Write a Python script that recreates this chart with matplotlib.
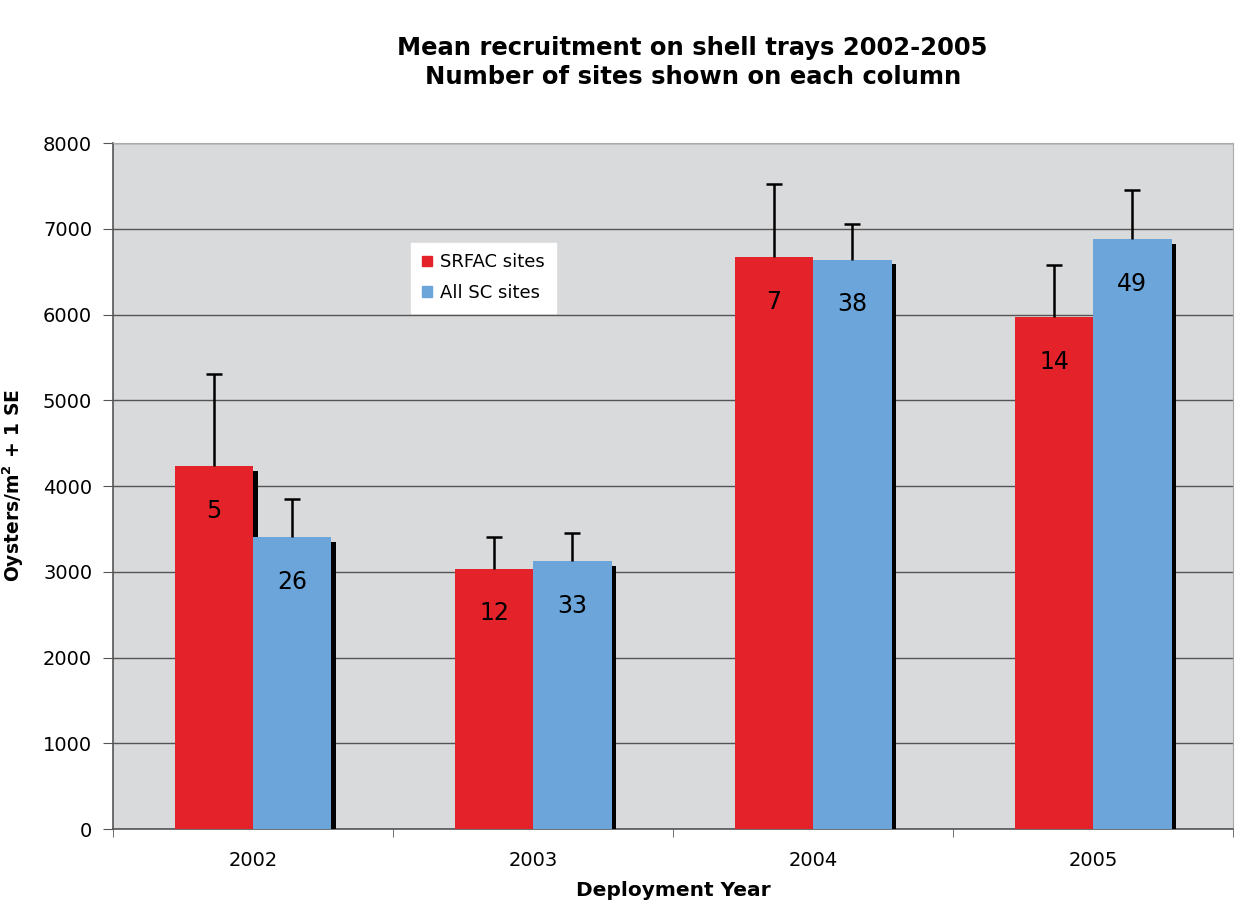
import numpy as np
import matplotlib.pyplot as plt
import matplotlib.patheffects as pe
from matplotlib.patches import Patch

# data
years = ["2002", "2003", "2004", "2005"]
srfac_mean = [4230, 3035, 6670, 5970]
srfac_se = [1075, 365, 850, 605]
allsc_mean = [3405, 3125, 6640, 6880]
allsc_se = [440, 330, 420, 570]
srfac_n = [5, 12, 7, 14]
allsc_n = [26, 33, 38, 49]

red = "#e3222a"
blue = "#6ca5da"

fig = plt.figure(figsize=(12.37, 9.08), dpi=100)
ax = fig.add_axes([0.0914, 0.087, 0.9055, 0.7555])
ax.set_facecolor("#d9dadb")

x = np.arange(len(years))
w = 0.28
shadow = [pe.SimplePatchShadow(offset=(3.5, -3.5), shadow_rgbFace="black", alpha=1), pe.Normal()]


def draw_series(xpos, means, errs, color, z):
    bars = ax.bar(xpos, means, w, color=color, zorder=z)
    for p in bars:
        p.set_path_effects(shadow)
    eb = ax.errorbar(xpos, means, yerr=[np.zeros(len(means)), errs], fmt="none",
                     ecolor="black", elinewidth=1.8, capsize=6, capthick=1.8, zorder=z + 1)
    # only the upper cap is shown
    eb[1][0].set_visible(False)


draw_series(x - w / 2, srfac_mean, srfac_se, red, 3)
draw_series(x + w / 2, allsc_mean, allsc_se, blue, 5)

# number of sites on each column
for i in range(4):
    ax.text(x[i] - w / 2, srfac_mean[i] - 520, str(srfac_n[i]), ha="center", va="center",
            fontsize=17, zorder=8)
    ax.text(x[i] + w / 2, allsc_mean[i] - 520, str(allsc_n[i]), ha="center", va="center",
            fontsize=17, zorder=8)

ax.set_xlim(-0.5, 3.5)
ax.set_ylim(0, 8000)
ax.set_yticks(np.arange(0, 8001, 1000))
ax.yaxis.grid(True, color="#555555", linewidth=1.0, zorder=1)
ax.set_axisbelow(True)
ax.set_xticks(x)
ax.set_xticklabels(years)
ax.set_xticks(np.arange(-0.5, 3.6, 1), minor=True)
ax.tick_params(axis="x", which="major", length=0, labelsize=14, pad=16)
ax.tick_params(axis="x", which="minor", length=6, color="#555555")
ax.tick_params(axis="y", length=7, labelsize=14, color="#555555", pad=8)

for s in ["left", "bottom"]:
    ax.spines[s].set_color("#555555")
    ax.spines[s].set_linewidth(1.2)
for s in ["top", "right"]:
    ax.spines[s].set_color("#aaaaaa")

ax.set_xlabel("Deployment Year", fontsize=14.5, fontweight="bold", labelpad=8)
ax.set_ylabel("Oysters/m$^{\\mathregular{2}}$ + 1 SE", fontsize=13.5, fontweight="bold", labelpad=12)

fig.suptitle("Mean recruitment on shell trays 2002-2005\nNumber of sites shown on each column",
             fontsize=17.5, fontweight="bold", x=0.56, y=0.96, linespacing=1.25)

handles = [Patch(color=red, label="SRFAC sites"), Patch(color=blue, label="All SC sites")]
leg = ax.legend(handles=handles, loc="upper left", bbox_to_anchor=(0.258, 0.868), fontsize=13,
                frameon=True, fancybox=False, edgecolor="white", facecolor="white",
                framealpha=1, handlelength=0.55, handleheight=0.55, handletextpad=0.45,
                borderpad=0.6, labelspacing=0.7)
leg.set_zorder(10)

fig.savefig("out.png", dpi=100)
